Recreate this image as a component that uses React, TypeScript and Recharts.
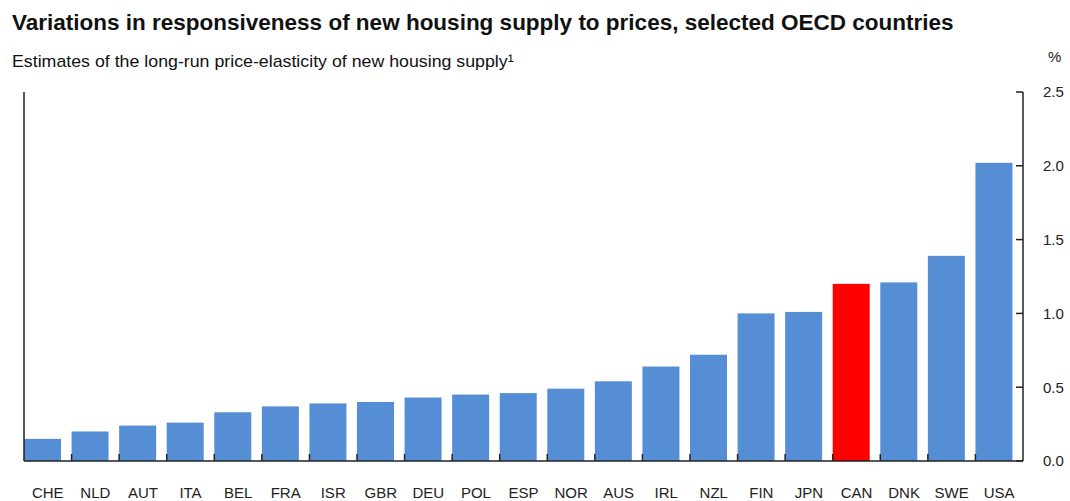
import React from "react";
import { BarChart, Bar, XAxis, YAxis, Cell } from "recharts";

const countries = ["CHE", "NLD", "AUT", "ITA", "BEL", "FRA", "ISR", "GBR", "DEU", "POL", "ESP", "NOR", "AUS", "IRL", "NZL", "FIN", "JPN", "CAN", "DNK", "SWE", "USA"];
const elasticity = [0.15, 0.2, 0.24, 0.26, 0.33, 0.37, 0.39, 0.4, 0.43, 0.45, 0.46, 0.49, 0.54, 0.64, 0.72, 1.0, 1.01, 1.2, 1.21, 1.39, 2.02];
const highlight = "CAN";
const yTicks = [0, 0.5, 1, 1.5, 2, 2.5];

const data = countries.map((c, i) => ({ country: c, value: elasticity[i] }));

const FONT = "'Liberation Sans', Arial, sans-serif";
const BLUE = "#558ed5";
const RED = "#ff0000";
const INK = "#222";

const XTick = (props: any) => {
  const { x, y, payload, index } = props;
  const half = payload.offset || 999 / 42;
  return (
    <g>
      {index > 0 && (
        <line x1={x - half} x2={x - half} y1={y - 7} y2={y} stroke={INK} strokeWidth={1.5} />
      )}
      <text x={x} y={y + 31} textAnchor="middle" dominantBaseline="central" fill={INK} fontSize={15} fontFamily={FONT}>
        {payload.value}
      </text>
    </g>
  );
};

// left axis: tick marks only, no labels
const NoLabel = () => <g />;

const ShiftedBar = (props: any) => {
  const { x, y, width, height, fill } = props;
  if (!height || height <= 0) return null;
  return <rect x={x - 5} y={y} width={width} height={height} fill={fill} />;
};

export default function App() {
  return (
    <div style={{ position: "relative", width: 1070, height: 501, overflow: "hidden", fontFamily: FONT }}>
      <style>{"body{margin:0;overflow:hidden}"}</style>
      <div style={{ position: "absolute", left: 12, top: 10, fontSize: 22.5, fontWeight: "bold", color: "#111", whiteSpace: "nowrap" }}>
        Variations in responsiveness of new housing supply to prices, selected OECD countries
      </div>
      <div style={{ position: "absolute", left: 12, top: 52, fontSize: 17, color: "#111", whiteSpace: "nowrap", transform: "scaleX(1.045)", transformOrigin: "left center" }}>
        Estimates of the long-run price-elasticity of new housing supply¹
      </div>
      <div style={{ position: "absolute", left: 1048, top: 48, fontSize: 15, color: INK }}>%</div>
      <div style={{ position: "absolute", left: 8, top: 8 }}>
        <BarChart
          width={1062}
          height={493}
          data={data}
          margin={{ top: 84, right: 0, bottom: 0, left: 8 }}
          barCategoryGap={0}
        >
          <XAxis
            dataKey="country"
            interval={0}
            height={40}
            tickLine={false}
            tickSize={0}
            tickMargin={0}
            axisLine={{ stroke: INK, strokeWidth: 1.5 }}
            tick={<XTick />}
          />
          <YAxis
            yAxisId="left"
            orientation="left"
            width={8}
            domain={[0, 2.5]}
            ticks={yTicks}
            tick={<NoLabel />}
            tickSize={-7}
            axisLine={{ stroke: INK, strokeWidth: 1.5 }}
            tickLine={{ stroke: INK, strokeWidth: 1.5 }}
          />
          <YAxis
            yAxisId="right"
            orientation="right"
            width={47}
            domain={[0, 2.5]}
            ticks={yTicks}
            tickFormatter={(v: number) => v.toFixed(1)}
            tickSize={-7}
            tickMargin={27}
            axisLine={{ stroke: INK, strokeWidth: 1.5 }}
            tickLine={{ stroke: INK, strokeWidth: 1.5 }}
            tick={{ fill: INK, fontSize: 15, fontFamily: FONT, textAnchor: "start" }}
          />
          <Bar dataKey="value" yAxisId="right" barSize={37} isAnimationActive={false} shape={<ShiftedBar />}>
            {data.map((d) => (
              <Cell key={d.country} fill={d.country === highlight ? RED : BLUE} />
            ))}
          </Bar>
        </BarChart>
      </div>
    </div>
  );
}
